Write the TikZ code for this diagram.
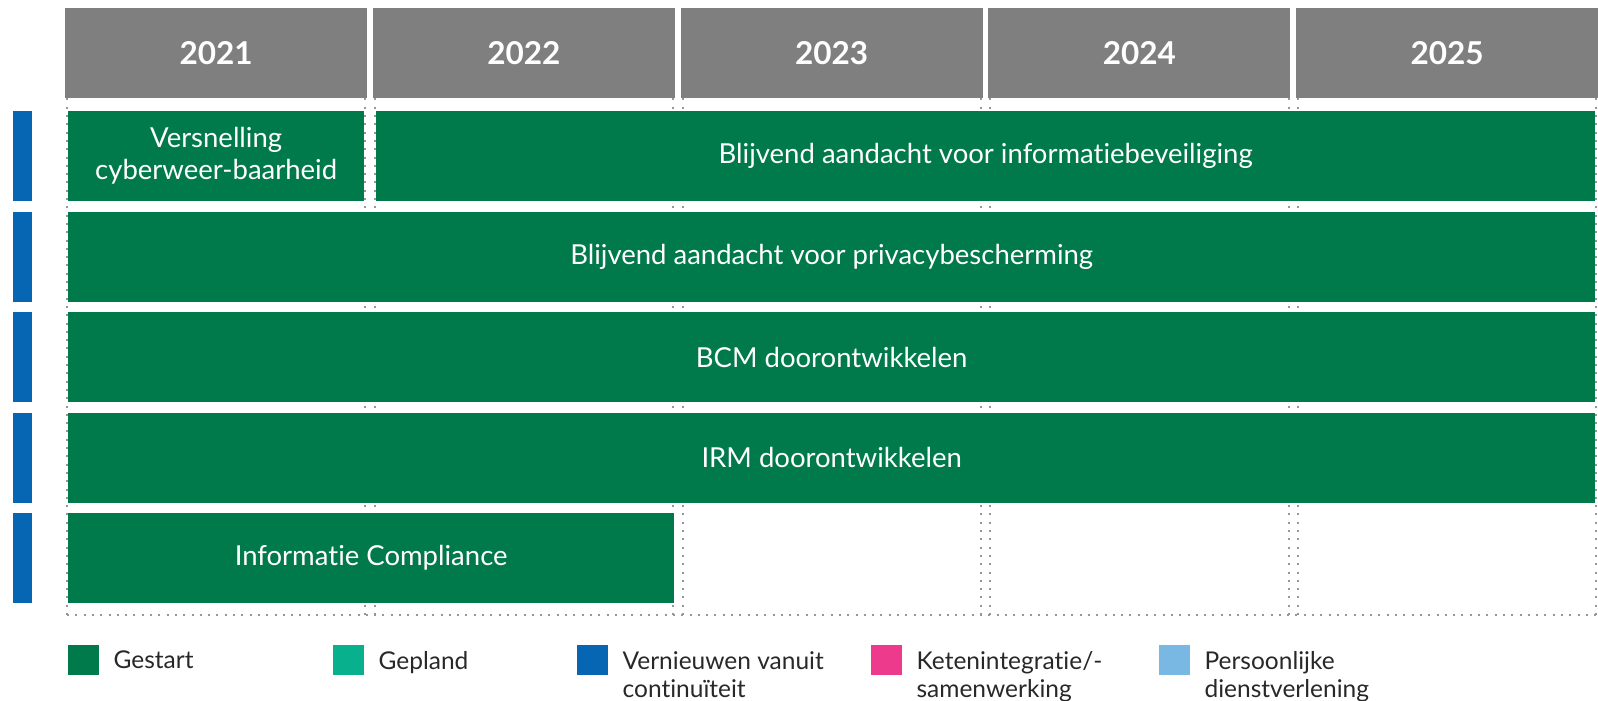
\documentclass[tikz,border=0pt]{standalone}
\usepackage{fontspec}
\setmainfont{Lato}[RawFeature={-liga;-dlig;-calt}]
\usetikzlibrary{positioning}
\definecolor{kopgrijs}{RGB}{127,127,128}
\definecolor{gestart}{RGB}{0,122,75}
\definecolor{gepland}{RGB}{8,176,142}
\definecolor{vernieuwen}{RGB}{7,102,180}
\definecolor{keten}{RGB}{238,58,140}
\definecolor{persoonlijk}{RGB}{122,184,228}
\definecolor{stippel}{RGB}{150,150,150}
\definecolor{tekst}{RGB}{40,40,40}

\begin{document}
\begin{tikzpicture}[x=1pt,y=-1pt,
  jaar/.style={fill=kopgrijs, text=white, font=\fontsize{31.5}{31.5}\selectfont\bfseries,
    minimum width=302pt, minimum height=90pt, inner sep=0pt, anchor=north west},
  balk/.style={fill=gestart, text=white, font=\fontsize{27.5}{32}\selectfont, align=center,
    minimum width=#1, minimum height=90pt, inner sep=0pt, anchor=north west},
  zijbalk/.style={fill=vernieuwen, minimum width=19pt, minimum height=90pt, inner sep=0pt, anchor=north west},
  raster/.style={stippel, line width=2pt, dash pattern=on 2pt off 6.3pt},
  vak/.style={fill=#1, minimum width=31pt, minimum height=30pt, inner sep=0pt, anchor=north west},
  legenda/.style={text=tekst, font=\fontsize{24.5}{28}\selectfont, align=left, inner sep=0pt}]
  \useasboundingbox (0,0) rectangle (1598,701);
  \coordinate (bodem) at (0,615);

  % jaren en stippelraster
  \foreach \j [count=\i from 0] in {2021,2022,2023,2024,2025} {
    \node[jaar] (j\j) at ({65+307.75*\i},8) {\j};
    \draw[raster] ([xshift=2pt]j\j.south west) -- ([xshift=2pt]j\j.south west |- bodem);
    \draw[raster] ([xshift=-2pt]j\j.south east) -- ([xshift=-2pt]j\j.south east |- bodem);
  }
  \draw[raster] ([xshift=2pt]j2021.south west |- bodem) -- ([xshift=-2pt]j2025.south east |- bodem);

  % zijbalken
  \foreach \t [count=\r] in {111,211.5,312,412.5,513}
    \node[zijbalk] (z\r) at (13,\t) {};

  % balken
  \node[balk=296pt] (versnelling) at (68,111) {Versnelling\\cyberweer-baarheid};
  \node[balk=1219pt] (informatie) at (376,111) {Blijvend aandacht voor informatiebeveiliging};
  \node[balk=1527pt] (privacy) at (68,211.5) {Blijvend aandacht voor privacybescherming};
  \node[balk=1527pt] (bcm) at (68,312) {BCM doorontwikkelen};
  \node[balk=1527pt] (irm) at (68,412.5) {IRM doorontwikkelen};
  \node[balk=606pt] (compliance) at (68,513) {Informatie Compliance};

  % legenda
  \foreach \x/\k/\n/\s in {68/gestart/l1/Gestart, 333/gepland/l2/Gepland,
      577/vernieuwen/l3/{Vernieuwen vanuit\\continuïteit},
      871/keten/l4/{Ketenintegratie/-\\samenwerking},
      1159/persoonlijk/l5/{Persoonlijke\\dienstverlening}} {
    \node[vak=\k] (\n) at (\x,645) {};
    \node[legenda, right=14pt of \n.north east, anchor=north west, yshift=-6pt] (\n t) {\s};
  }
\end{tikzpicture}
\end{document}
